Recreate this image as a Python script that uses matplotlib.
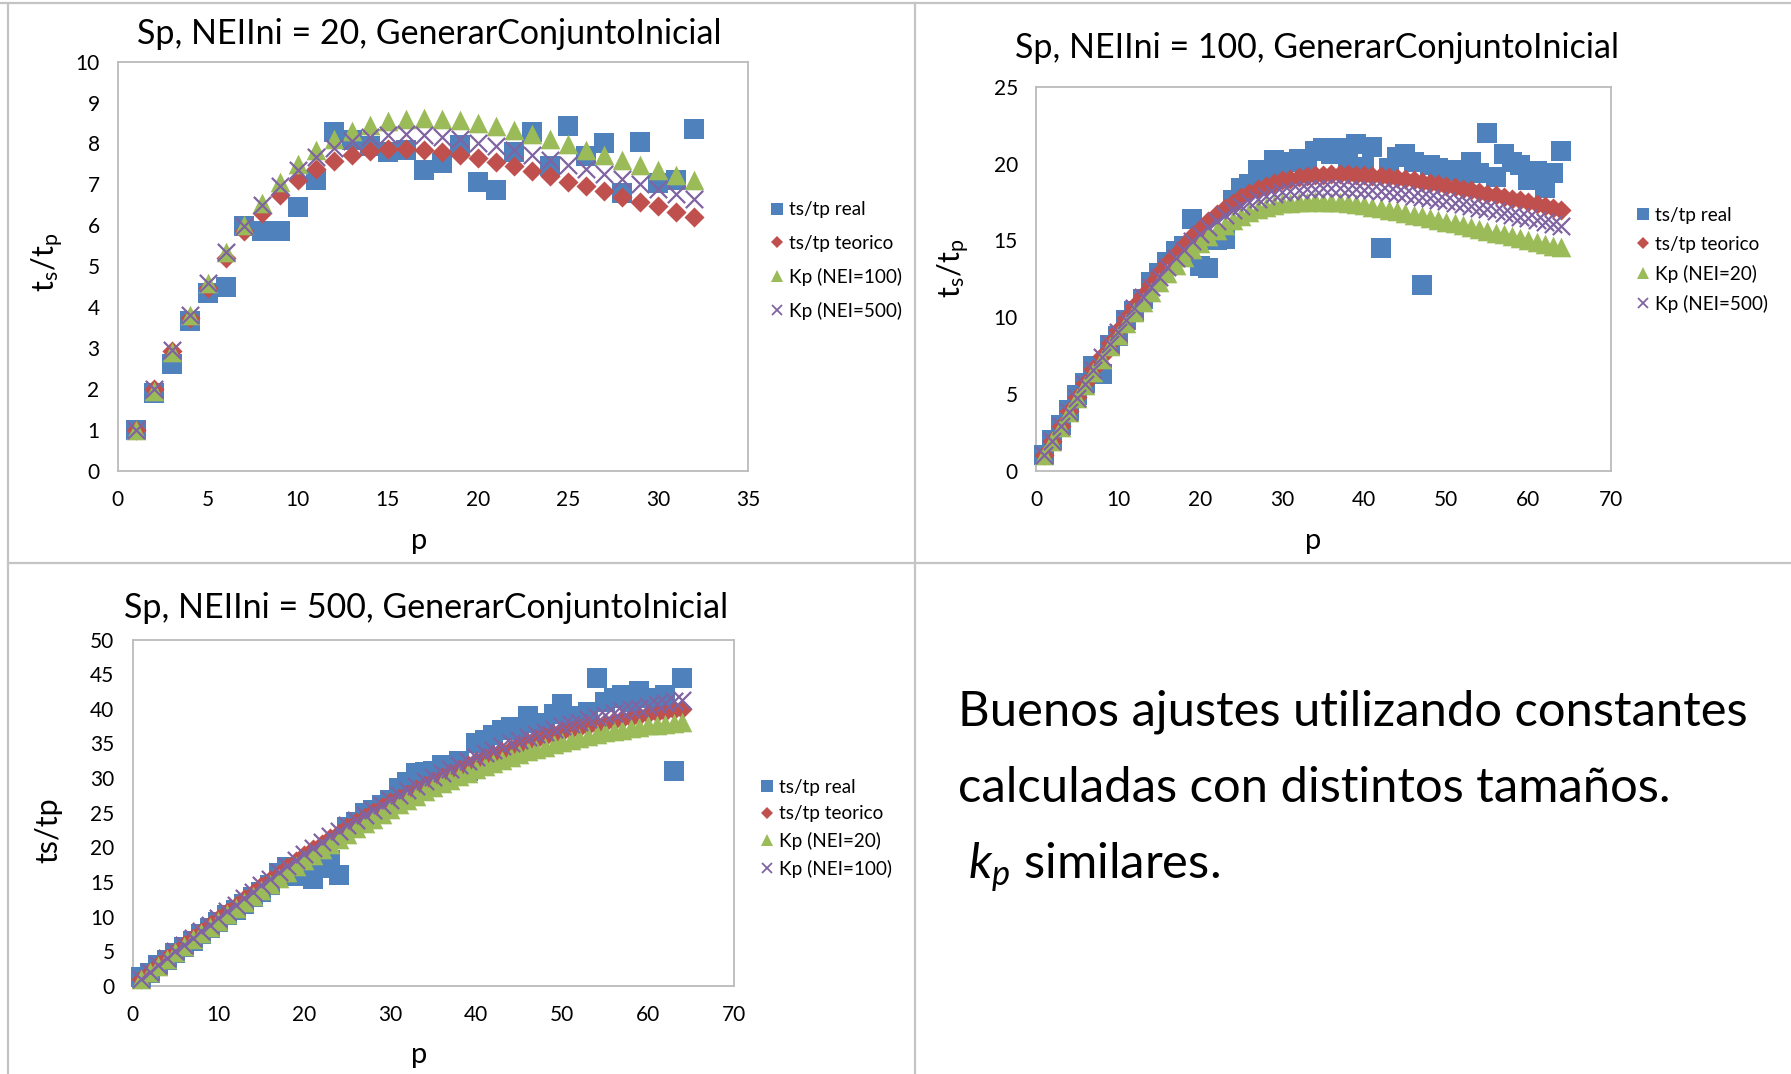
import matplotlib
matplotlib.use("Agg")
import matplotlib.pyplot as plt
from matplotlib.lines import Line2D

plt.rcParams['font.family'] = ['Lato', 'DejaVu Sans']
plt.rcParams['mathtext.fontset'] = 'custom'
plt.rcParams['mathtext.rm'] = 'Lato'
plt.rcParams['mathtext.it'] = 'Lato:italic'

BLUE = '#4F81BD'
RED = '#C0504D'
GREEN = '#9BBB59'
PURPLE = '#8064A2'
FRAME = '#BBBBBB'
RULE = '#C4C4C4'

# ---------------- NEIIni = 20 ----------------
p_20 = list(range(1, 33))
real_20 = [1.0, 1.9, 2.6, 3.67, 4.35, 4.5, 5.98, 5.85, 5.85, 6.44, 7.1, 8.28,
           8.09, 7.93, 7.8, 7.85, 7.34, 7.52, 7.97, 7.07, 6.87, 7.8, 8.29, 7.44,
           8.43, 7.7, 8.0, 6.8, 8.03, 7.03, 7.11, 8.35]
teo_20 = [1.0, 2.0, 2.93, 3.74, 4.47, 5.2, 5.85, 6.3, 6.73, 7.11, 7.37, 7.58,
          7.72, 7.82, 7.86, 7.87, 7.85, 7.8, 7.72, 7.64, 7.54, 7.44, 7.32, 7.2,
          7.07, 6.95, 6.83, 6.7, 6.56, 6.46, 6.33, 6.2]
kp100_20 = [1.0, 1.95, 2.9, 3.8, 4.6, 5.35, 6.0, 6.55, 7.05, 7.5, 7.85, 8.1,
            8.3, 8.45, 8.55, 8.6, 8.62, 8.6, 8.57, 8.5, 8.43, 8.33, 8.22, 8.1,
            7.98, 7.85, 7.72, 7.6, 7.47, 7.35, 7.22, 7.1]
kp500_20 = [1.0, 2.0, 2.95, 3.8, 4.6, 5.35, 5.98, 6.5, 6.95, 7.35, 7.67, 7.9,
            8.05, 8.15, 8.2, 8.22, 8.2, 8.17, 8.1, 8.02, 7.93, 7.83, 7.72, 7.6,
            7.48, 7.37, 7.25, 7.12, 7.0, 6.88, 6.76, 6.64]

# ---------------- NEIIni = 100 ----------------
p_100 = list(range(1, 65))
real_100 = [1.0, 2.0, 3.0, 3.95, 4.9, 5.7, 6.8, 6.3, 8.2, 8.8, 9.8, 10.4,
            11.2, 12.3, 12.9, 13.6, 14.3, 14.6, 16.4, 13.3, 13.2, 15.0, 15.1, 17.6,
            18.4, 18.7, 19.6, 19.4, 20.2, 19.8, 20.1, 20.3, 19.9, 20.8, 21.0, 20.6,
            21.0, 20.1, 21.3, 19.8, 21.1, 14.5, 19.7, 20.4, 20.6, 20.1, 12.1, 19.9,
            19.7, 19.5, 19.6, 19.3, 20.1, 19.4, 22.0, 19.1, 20.6, 20.1, 19.9, 18.9,
            19.5, 18.4, 19.4, 20.8]
teo_100 = [1.0, 1.95, 2.9, 3.85, 4.78, 5.7, 6.6, 7.47, 8.33, 9.15, 9.95, 10.7,
           11.45, 12.15, 12.85, 13.5, 14.1, 14.7, 15.25, 15.75, 16.25, 16.7, 17.1, 17.45,
           17.8, 18.1, 18.35, 18.55, 18.75, 18.9, 19.0, 19.1, 19.18, 19.24, 19.28, 19.3,
           19.31, 19.3, 19.28, 19.25, 19.21, 19.17, 19.11, 19.05, 18.98, 18.9, 18.82, 18.73,
           18.64, 18.55, 18.45, 18.35, 18.25, 18.15, 18.04, 17.93, 17.82, 17.71, 17.6, 17.48,
           17.36, 17.23, 17.1, 16.95]
kp20_100 = [1.0, 1.94, 2.87, 3.8, 4.7, 5.59, 6.45, 7.28, 8.09, 8.86, 9.61, 10.3,
            10.99, 11.63, 12.27, 12.86, 13.4, 13.93, 14.41, 14.85, 15.29, 15.68, 16.02, 16.31,
            16.6, 16.84, 17.03, 17.17, 17.31, 17.4, 17.44, 17.49, 17.52, 17.53, 17.52, 17.5,
            17.47, 17.42, 17.36, 17.29, 17.2, 17.1, 17.0, 16.9, 16.79, 16.68, 16.57, 16.46,
            16.34, 16.22, 16.1, 15.98, 15.86, 15.74, 15.62, 15.5, 15.38, 15.26, 15.14, 15.02,
            14.9, 14.78, 14.66, 14.54]
kp500_100 = [1.0, 1.95, 2.9, 3.84, 4.76, 5.67, 6.56, 7.42, 8.26, 9.05, 9.83, 10.56,
             11.28, 11.95, 12.62, 13.24, 13.82, 14.4, 14.93, 15.4, 15.86, 16.27, 16.63, 16.95,
             17.25, 17.51, 17.72, 17.88, 18.04, 18.15, 18.22, 18.29, 18.34, 18.37, 18.39, 18.4,
             18.39, 18.37, 18.34, 18.3, 18.25, 18.2, 18.14, 18.07, 18.0, 17.91, 17.82, 17.73,
             17.64, 17.55, 17.45, 17.35, 17.24, 17.13, 17.02, 16.9, 16.79, 16.67, 16.55, 16.43,
             16.31, 16.18, 16.05, 15.92]

# ---------------- NEIIni = 500 ----------------
p_500 = list(range(1, 65))
real_500 = [1.3, 1.9, 3.0, 3.8, 4.7, 5.6, 6.5, 7.5, 8.3, 9.2, 10.2, 11.0,
            11.8, 12.9, 13.6, 14.6, 16.3, 17.2, 15.9, 16.4, 15.5, 17.0, 18.2, 16.0,
            22.9, 23.6, 24.9, 25.4, 26.1, 26.9, 28.6, 29.5, 30.7, 30.9, 31.0, 31.9,
            31.0, 32.4, 31.0, 35.0, 35.5, 36.2, 36.9, 37.4, 37.0, 38.9, 37.9, 38.0,
            39.3, 40.7, 38.4, 39.0, 39.6, 44.5, 41.0, 41.5, 42.0, 41.0, 42.5, 41.6,
            41.3, 42.0, 31.0, 44.4]
teo_500 = [1.0, 1.99, 2.98, 3.97, 4.95, 5.91, 6.87, 7.83, 8.77, 9.7, 10.65, 11.59,
           12.53, 13.47, 14.4, 15.31, 16.22, 17.12, 18.01, 18.9, 19.72, 20.53, 21.33, 22.12,
           22.9, 23.64, 24.37, 25.09, 25.8, 26.5, 27.14, 27.77, 28.39, 29.0, 29.6, 30.17,
           30.73, 31.29, 31.85, 32.4, 32.88, 33.35, 33.81, 34.26, 34.7, 35.1, 35.49, 35.87,
           36.24, 36.6, 36.89, 37.17, 37.45, 37.73, 38.0, 38.25, 38.49, 38.73, 38.97, 39.2,
           39.4, 39.6, 39.8, 40.0]
kp20_500 = [1.0, 1.97, 2.94, 3.9, 4.85, 5.78, 6.71, 7.63, 8.54, 9.45, 10.35, 11.24,
            12.13, 13.02, 13.9, 14.76, 15.62, 16.47, 17.31, 18.15, 18.93, 19.7, 20.47, 21.24,
            22.0, 22.73, 23.45, 24.17, 24.89, 25.6, 26.23, 26.86, 27.48, 28.09, 28.7, 29.23,
            29.75, 30.27, 30.79, 31.3, 31.75, 32.2, 32.63, 33.07, 33.5, 33.85, 34.2, 34.54,
            34.87, 35.2, 35.49, 35.77, 36.05, 36.33, 36.6, 36.81, 37.01, 37.21, 37.41, 37.6,
            37.73, 37.86, 37.98, 38.1]
kp100_500 = [1.0, 2.0, 3.0, 4.0, 5.0, 5.97, 6.93, 7.89, 8.85, 9.8, 10.76, 11.71,
             12.66, 13.61, 14.55, 15.47, 16.39, 17.3, 18.2, 19.1, 19.94, 20.77, 21.59, 22.4,
             23.2, 23.96, 24.71, 25.45, 26.18, 26.9, 27.58, 28.25, 28.91, 29.56, 30.2, 30.79,
             31.37, 31.95, 32.53, 33.1, 33.6, 34.09, 34.57, 35.04, 35.5, 35.91, 36.32, 36.72,
             37.11, 37.5, 37.83, 38.16, 38.48, 38.79, 39.1, 39.37, 39.64, 39.9, 40.15, 40.4,
             40.63, 40.86, 41.08, 41.3]

W, H = 1791, 1074
fig = plt.figure(figsize=(W / 100, H / 100), dpi=100)
fig.patch.set_facecolor('white')


def fx(px):
    return px / W


def fy(py):
    return 1 - py / H


def rect(l, t, r, b):
    return [fx(l), fy(b), fx(r) - fx(l), fy(t) - fy(b)]


def draw_panel(ax, p, series, labels, xmax, xstep, ymax, ystep, title, title_xy,
               ylabel, ylabel_xy, xlabel_xy, leg_xy, leg_spacing):
    real, teo, kpa, kpb = series
    ax.scatter(p, real, marker='s', s=220, c=BLUE, linewidths=0, zorder=3, clip_on=False)
    ax.scatter(p, teo, marker='D', s=105, c=RED, linewidths=0, zorder=4, clip_on=False)
    ax.scatter(p, kpa, marker='^', s=200, c=GREEN, linewidths=0, zorder=5, clip_on=False)
    ax.scatter(p, kpb, marker='x', s=155, c=PURPLE, linewidths=1.6, zorder=6, clip_on=False)
    ax.set_xlim(0, xmax)
    ax.set_ylim(0, ymax)
    ax.set_xticks(range(0, xmax + 1, xstep))
    ax.set_yticks(range(0, ymax + 1, ystep))
    ax.tick_params(length=0, labelsize=15, colors='#000000')
    ax.tick_params(axis='x', pad=14)
    ax.tick_params(axis='y', pad=13)
    for sp in ax.spines.values():
        sp.set_color(FRAME)
        sp.set_linewidth(1.3)
    ax.text(title_xy[0], title_xy[1], title, transform=ax.transAxes,
            ha='center', va='center', fontsize=24.5)
    ax.set_ylabel(ylabel, fontsize=22, va='center', ha='center')
    ax.yaxis.set_label_coords(*ylabel_xy)
    ax.set_xlabel('p', fontsize=21, va='center', ha='center')
    ax.xaxis.set_label_coords(*xlabel_xy)

    handles = [
        Line2D([], [], ls='none', marker='s', ms=8.5, mfc=BLUE, mec=BLUE, mew=0),
        Line2D([], [], ls='none', marker='D', ms=6.0, mfc=RED, mec=RED, mew=0),
        Line2D([], [], ls='none', marker='^', ms=8.5, mfc=GREEN, mec=GREEN, mew=0),
        Line2D([], [], ls='none', marker='x', ms=7.5, mec=PURPLE, mew=1.3),
    ]
    ax.legend(handles, labels, loc='upper left',
              bbox_to_anchor=(fx(leg_xy[0]), fy(leg_xy[1])),
              bbox_transform=fig.transFigure, frameon=False, fontsize=13.6,
              borderpad=0, borderaxespad=0, handlelength=0.78,
              handletextpad=0.2, labelspacing=leg_spacing)


ax1 = fig.add_axes(rect(117.6, 61.7, 748, 470.6))
draw_panel(ax1, p_20, (real_20, teo_20, kp100_20, kp500_20),
           ['ts/tp real', 'ts/tp teorico', 'Kp (NEI=100)', 'Kp (NEI=500)'],
           35, 5, 10, 1, 'Sp, NEIIni = 20, GenerarConjuntoInicial', (0.494, 1.068),
           r'$\mathregular{t_s/t_p}$', (-0.110, 0.51), (0.478, -0.172),
           (770, 201.5), 0.85)

ax2 = fig.add_axes(rect(1036, 86.8, 1610.5, 470.6))
draw_panel(ax2, p_100, (real_100, teo_100, kp20_100, kp500_100),
           ['ts/tp real', 'ts/tp teorico', 'Kp (NEI=20)', 'Kp (NEI=500)'],
           70, 10, 25, 5, 'Sp, NEIIni = 100, GenerarConjuntoInicial', (0.489, 1.101),
           r'$\mathregular{t_s/t_p}$', (-0.143, 0.528), (0.482, -0.183),
           (1636, 207), 0.63)

ax3 = fig.add_axes(rect(132.5, 639.5, 734, 986))
draw_panel(ax3, p_500, (real_500, teo_500, kp20_500, kp100_500),
           ['ts/tp real', 'ts/tp teorico', 'Kp (NEI=20)', 'Kp (NEI=100)'],
           70, 10, 50, 5, 'Sp, NEIIni = 500, GenerarConjuntoInicial', (0.488, 1.091),
           'ts/tp', (-0.1405, 0.45), (0.476, -0.199),
           (760, 778.5), 0.51)

# slide table rules
for (x0, y0, x1, y1) in [(0, 3, W, 3), (8, 3, 8, H), (915, 3, 915, H), (8, 563, W, 563)]:
    fig.add_artist(Line2D([fx(x0), fx(x1)], [fy(y0), fy(y1)], transform=fig.transFigure,
                          color=RULE, lw=1.6))

# comment block in the lower-right cell
fig.text(fx(958), fy(725), 'Buenos ajustes utilizando constantes', fontsize=35.3,
         ha='left', va='baseline')
fig.text(fx(958), fy(802), 'calculadas con distintos tamaños.', fontsize=35.3,
         ha='left', va='baseline')
fig.text(fx(968), fy(879), r'$k_p$ similares.', fontsize=35.3, ha='left', va='baseline')

fig.savefig('out.png', dpi=100, facecolor='white')
